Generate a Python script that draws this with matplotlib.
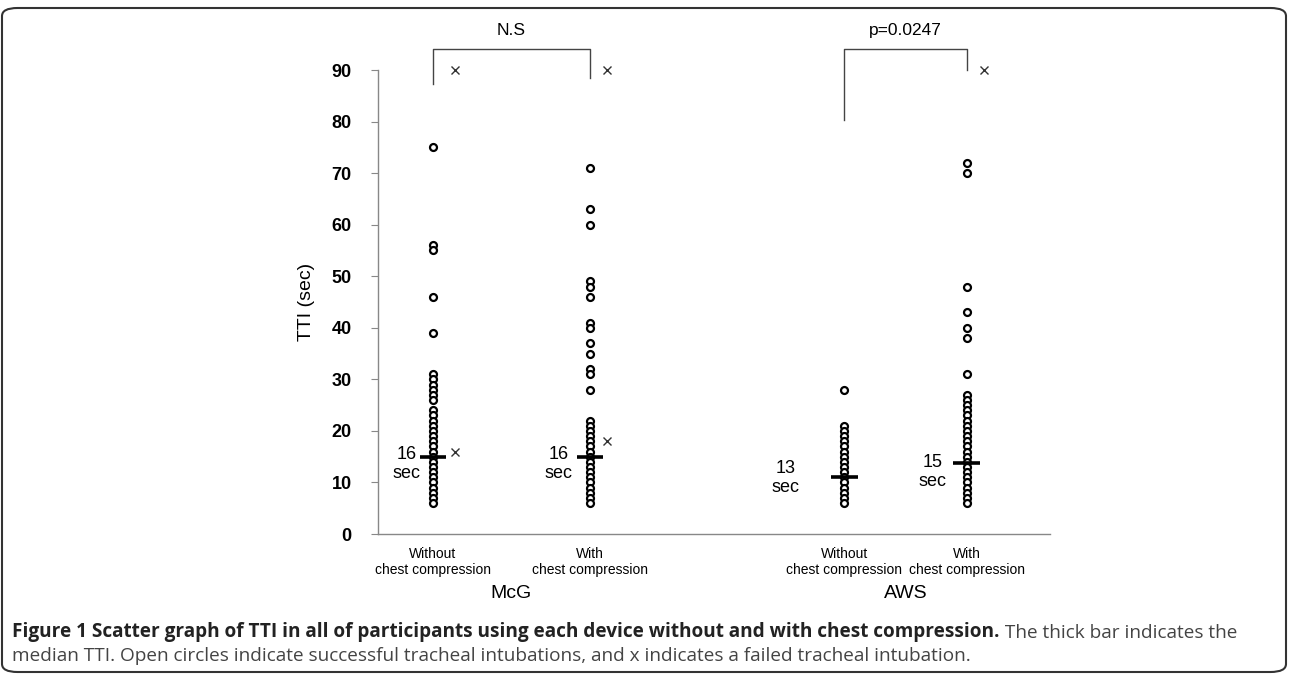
import matplotlib
matplotlib.use('Agg')
import matplotlib.pyplot as plt
from matplotlib.patches import FancyBboxPatch

# TTI values (sec)
mcg_without = [75, 56, 55, 46, 39, 31, 30, 29, 28, 27, 26, 24, 23,
               22, 21, 20, 19, 18, 17, 16, 15, 14, 13, 12, 11, 10, 9, 8, 7, 6]
mcg_with = [71, 63, 60, 49, 48, 46, 41, 40, 37, 35, 32, 31, 28,
            22, 21, 20, 19, 18, 17, 16, 15, 14, 13, 12, 11, 10, 9, 8, 7, 6]
aws_without = [28, 21, 20, 19, 18, 17, 16, 15, 14, 13, 12, 11, 10, 9, 8, 7, 6]
aws_with = [72, 70, 48, 43, 40, 38, 31, 27, 26,
            25, 24, 23, 22, 21, 20, 19, 18, 17, 16, 15, 14, 13, 12, 11, 10, 9, 8, 7, 6]

groups = [mcg_without, mcg_with, aws_without, aws_with]
medians = [15, 15, 11, 13.8]
median_labels = ['16\nsec', '16\nsec', '13\nsec', '15\nsec']
# failed intubations: (group index, value)
failed = [(0, 90), (0, 16), (1, 90), (1, 18), (3, 90)]
cat_labels = ['Without\nchest compression', 'With\nchest compression',
              'Without\nchest compression', 'With\nchest compression']
devices = ['McG', 'AWS']
comparisons = ['N.S', 'p=0.0247']

pos = [1, 2, 3.62, 4.4]

plt.rcParams['font.family'] = ['Liberation Sans', 'DejaVu Sans']

fig = plt.figure(figsize=(12.89, 6.74), dpi=100)
ax = fig.add_axes([0.2932, 0.2077, 0.8146 - 0.2932, 0.8961 - 0.2077])

for x, vals in zip(pos, groups):
    ax.plot([x] * len(vals), vals, 'o', ls='none', ms=5, mfc='white',
            mec='black', mew=1.6, zorder=3)

for x, m in zip(pos, medians):
    ax.hlines(m, x - 0.085, x + 0.085, color='black', lw=2.6, zorder=4)

x_off = [0.14, 0.11, 0.11, 0.11]
for g, v in failed:
    ax.plot(pos[g] + x_off[g], v, 'x', ms=6, color='#333333', mew=1.0,
            clip_on=False)

lab_off = [(-0.165, 13.6), (-0.2, 13.6), (-0.375, 10.9), (-0.22, 12.0)]
for x, (dx, y), t in zip(pos, lab_off, median_labels):
    ax.text(x + dx, y, t, ha='center', va='center', fontsize=13,
            linespacing=1.2)

# significance brackets
brackets = [(pos[0], pos[1], 87.2, 88.5), (pos[2], pos[3], 80.4, 90)]
for (x1, x2, y1, y2), lab in zip(brackets, comparisons):
    ax.plot([x1, x1, x2, x2], [y1, 94, 94, y2], color='#444444', lw=1.0,
            clip_on=False)
    ax.text((x1 + x2) / 2, 97.6, lab, ha='center', va='center', fontsize=12.5)

ax.set_xlim(0.65, 4.93)
ax.set_ylim(0, 90)
ax.set_yticks(range(0, 91, 10))
ax.set_yticklabels([str(v) for v in range(0, 91, 10)], fontsize=13,
                   fontweight='bold')
ax.set_xticks([])
for s in ['top', 'right']:
    ax.spines[s].set_visible(False)
for s in ['left', 'bottom']:
    ax.spines[s].set_color('#888888')
    ax.spines[s].set_linewidth(1.0)
ax.tick_params(axis='y', length=5, color='#888888', pad=14)
ax.set_ylabel('TTI (sec)', fontsize=14, labelpad=12)

for x, t in zip(pos, cat_labels):
    ax.text(x, -2.6, t, ha='center', va='top', fontsize=10,
            linespacing=1.15)
ax.text((pos[0] + pos[1]) / 2, -11.5, devices[0], ha='center', va='center',
        fontsize=14)
ax.text((pos[2] + pos[3]) / 2, -11.5, devices[1], ha='center', va='center',
        fontsize=14)

# caption
cap_font = ['Open Sans', 'DejaVu Sans']
bold = fig.text(12 / 1289, 1 - 637 / 674,
                'Figure 1 Scatter graph of TTI in all of participants using each '
                'device without and with chest compression.',
                fontsize=13.7, fontweight='bold', color='#222222', family=cap_font,
                va='baseline')
ax.annotate(' The thick bar indicates the', xy=(1, 0), xycoords=bold,
            va='bottom', ha='left', fontsize=13.7, color='#444444',
            family=cap_font, annotation_clip=False)
fig.text(12 / 1289, 1 - 661 / 674,
         'median TTI. Open circles indicate successful tracheal intubations, '
         'and x indicates a failed tracheal intubation.',
         fontsize=13.7, color='#444444', family=cap_font, va='baseline')

frame = FancyBboxPatch((2 / 1289, 2 / 674), 1284 / 1289, 664 / 674,
                       boxstyle='round,pad=0,rounding_size=0.012',
                       transform=fig.transFigure, fill=False,
                       ec='#333333', lw=1.5)
fig.patches.append(frame)

fig.savefig('out.png', dpi=100)
